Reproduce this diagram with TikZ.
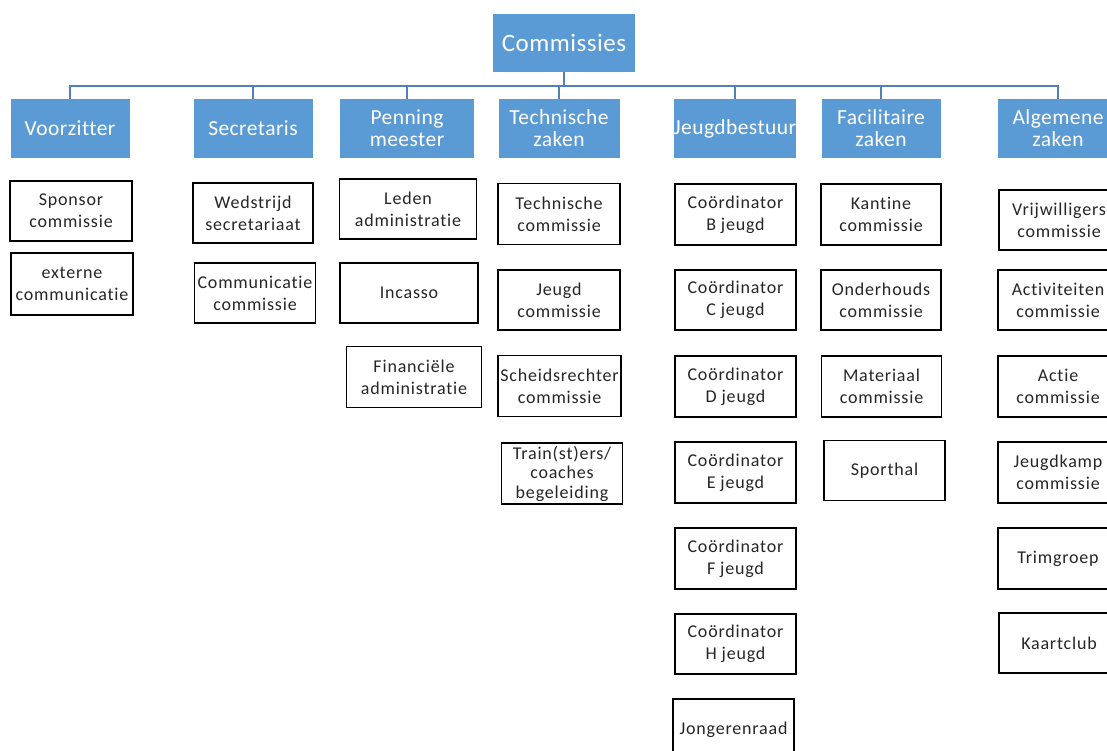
\documentclass[tikz,border=0pt]{standalone}
\usepackage{fontspec}
\setmainfont{Carlito}[Ligatures=NoCommon]
\newfontfamily\vakfont{Carlito}[LetterSpace=4.5,Ligatures=NoCommon]
\newfontfamily\kopfont{Carlito}[LetterSpace=2,Ligatures=NoCommon]
\usetikzlibrary{positioning}

\definecolor{kopblauw}{RGB}{91,155,213}
\definecolor{lijnblauw}{RGB}{80,130,184}

\begin{document}
\begin{tikzpicture}[x=1pt,y=-1pt,
	kop/.style={fill=kopblauw,text=white,minimum width=119pt,minimum height=59pt,inner sep=0pt,align=center,font=\kopfont\fontsize{21.5}{22}\selectfont},
	vak/.style={draw=black,line width=1.3pt,text=black!85,minimum width=121pt,minimum height=60pt,inner sep=0pt,align=center,font=\vakfont\fontsize{18}{22}\selectfont},
	lijn/.style={draw=lijnblauw,line width=2pt}]
	\useasboundingbox (0,0) rectangle (1107,751);
	\fill[white] (0,0) rectangle (1107,751);
	\clip (0,0) rectangle (1107,751);

	% top en koppen
	\node[kop,minimum width=142pt,minimum height=58pt,font=\kopfont\fontsize{25}{26}\selectfont] (top) at (564,43) {Commissies};
	\node[kop] (h1) at (70,128.5) {Voorzitter};
	\node[kop] (h2) at (253,128.5) {Secretaris};
	\node[kop,minimum width=134pt] (h3) at (407,128.5) {Penning\\meester};
	\node[kop,minimum width=121pt] (h4) at (559,128.5) {Technische\\zaken};
	\node[kop] (h5) at (735,128.5) {Jeugdbestuur};
	\node[kop] (h6) at (881,128.5) {Facilitaire\\zaken};
	\node[kop,minimum width=120pt] (h7) at (1058,128.5) {Algemene\\zaken};

	\coordinate (bus) at (0,86);
	\foreach \h in {h1,h2,h3,h4,h5,h6,h7}
		\draw[lijn] (top.south) -- (top.south |- bus) -| (\h.north);

	% Voorzitter
	\node[vak,minimum width=122pt] (v1) at (71,211) {Sponsor\\commissie};
	\node[vak,minimum width=122pt,minimum height=62pt] (v2) at (72,284) {externe\\communicatie};

	% Secretaris
	\node[vak,minimum width=120pt] (s1) at (253,213) {Wedstrijd\\secretariaat};
	\node[vak] (s2) at (255,293) {Communicatie\\commissie};

	% Penningmeester
	\node[vak,minimum width=137pt] (p1) at (408,209) {Leden\\administratie};
	\node[vak,minimum width=138pt] (p2) at (409,293) {Incasso};
	\node[vak,minimum width=135pt,minimum height=61pt] (p3) at (414,377) {Financiële\\administratie};

	% Technische zaken
	\node[vak,minimum width=122pt,minimum height=61pt] (t1) at (559,214) {Technische\\commissie};
	\node[vak,minimum width=122pt] (t2) at (559,300) {Jeugd\\commissie};
	\node[vak,minimum width=123pt,minimum height=61pt] (t3) at (559.5,386) {Scheidsrechter\\commissie};
	\node[vak,minimum height=61pt,font=\vakfont\fontsize{18}{19.5}\selectfont] (t4) at (562,473.5) {Train(st)ers/\\coaches\\begeleiding};

	% Jeugdbestuur
	\node[vak,minimum height=61pt] (j1) at (735.5,214.5) {Coördinator\\B jeugd};
	\node[vak] (j2) at (735.5,300) {Coördinator\\C jeugd};
	\node[vak,minimum height=61pt] (j3) at (735.5,386.5) {Coördinator\\D jeugd};
	\node[vak,minimum height=61pt] (j4) at (735.5,472.5) {Coördinator\\E jeugd};
	\node[vak,minimum height=61pt] (j5) at (735.5,558.5) {Coördinator\\F jeugd};
	\node[vak] (j6) at (735.5,644) {Coördinator\\H jeugd};
	\node[vak,minimum height=61pt] (j7) at (733.5,729.5) {Jongerenraad};

	% Facilitaire zaken
	\node[vak,minimum width=120pt,minimum height=61pt] (f1) at (881,214.5) {Kantine\\commissie};
	\node[vak,minimum width=120pt] (f2) at (881,300) {Onderhouds\\commissie};
	\node[vak,minimum width=120pt,minimum height=61pt] (f3) at (881.5,386.5) {Materiaal\\commissie};
	\node[vak] (f4) at (884.5,470.5) {Sporthal};

	% Algemene zaken
	\node[vak,minimum width=120pt] (a1) at (1059,220) {Vrijwilligers\\commissie};
	\node[vak,minimum width=120pt] (a2) at (1058,300) {Activiteiten\\commissie};
	\node[vak,minimum width=120pt,minimum height=61pt] (a3) at (1058,386.5) {Actie\\commissie};
	\node[vak,minimum width=120pt,minimum height=61pt] (a4) at (1058,472.5) {Jeugdkamp\\commissie};
	\node[vak,minimum width=120pt,minimum height=61pt] (a5) at (1058,558.5) {Trimgroep};
	\node[vak,minimum width=120pt] (a6) at (1059,643) {Kaartclub};
\end{tikzpicture}
\end{document}
